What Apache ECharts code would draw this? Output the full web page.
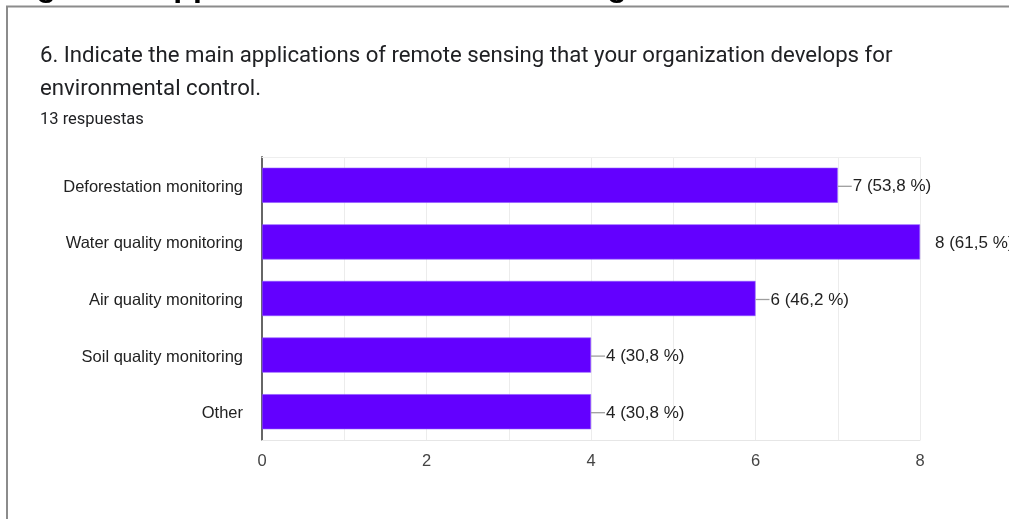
<!DOCTYPE html>
<html>
<head>
<meta charset="utf-8">
<style>
  html, body { margin: 0; padding: 0; background: #fff; }
  #chart { width: 1009px; height: 519px; }
</style>
<script src="https://cdn.jsdelivr.net/npm/echarts@6/dist/echarts.min.js"></script>
</head>
<body>
<div id="chart"></div>
<script>
// Survey answers: how many of the 13 respondents chose each application
const categories = [
  'Deforestation monitoring',
  'Water quality monitoring',
  'Air quality monitoring',
  'Soil quality monitoring',
  'Other'
];
const counts = [7, 8, 6, 4, 4];
const percents = ['53,8', '61,5', '46,2', '30,8', '30,8'];
const xTicks = [0, 2, 4, 6, 8];
const totalAnswers = 13;

const heading = 'Figure 6. Applications of remote sensing for environmental control';
const question = ['6. Indicate the main applications of remote sensing that your organization develops for',
                  'environmental control.'];
const answersLine = totalAnswers + ' respuestas';

const AXIS_MAX = 8;
const chartFont = '"Liberation Sans", Arial, sans-serif';

const chart = echarts.init(document.getElementById('chart'), null, { renderer: 'canvas' });

chart.setOption({
  animation: false,
  backgroundColor: '#ffffff',
  grid: { left: 262, right: 89, top: 157, bottom: 79, containLabel: false },
  xAxis: [{
    type: 'value',
    min: 0,
    max: AXIS_MAX,
    interval: 1,
    axisLine: { show: true, lineStyle: { color: '#e6e6e6', width: 1 } },
    axisTick: { show: false },
    splitLine: { show: true, lineStyle: { color: '#ececec', width: 1 } },
    axisLabel: {
      margin: 13,
      color: '#444',
      fontSize: 16.5,
      fontFamily: chartFont,
      formatter: v => (xTicks.indexOf(v) >= 0 ? String(v) : '')
    }
  }, {
    type: 'value',
    position: 'top',
    min: 0,
    max: AXIS_MAX,
    axisLine: { show: true, lineStyle: { color: '#eeeeee', width: 1 } },
    axisTick: { show: false },
    axisLabel: { show: false },
    splitLine: { show: false }
  }],
  yAxis: {
    type: 'category',
    data: categories,
    inverse: true,
    axisLine: { show: true, lineStyle: { color: '#666', width: 2 } },
    axisTick: { show: false },
    axisLabel: {
      margin: 19,
      formatter: v => '{c|' + v + '}',
      rich: {
        c: {
          color: '#222',
          fontSize: 16.5,
          fontFamily: chartFont,
          padding: [4, 0, 0, 0]
        }
      }
    }
  },
  series: [{
    type: 'bar',
    data: counts,
    barWidth: '62%',
    itemStyle: { color: '#6300ff', borderColor: '#8d55ff', borderWidth: 0.6 },
    label: {
      show: true,
      position: 'right',
      distance: 15,
      offset: [0, 1.5],
      color: '#222',
      fontSize: 17,
      fontFamily: chartFont,
      formatter: p => p.value + ' (' + percents[p.dataIndex] + ' %)'
    }
  }, {
    // short leader lines joining each bar end to its value label
    type: 'custom',
    silent: true,
    data: counts.map((v, i) => [v, i]),
    renderItem: (params, api) => {
      const v = api.value(0);
      if (v >= AXIS_MAX) return null;
      const p = api.coord([v, api.value(1)]);
      return {
        type: 'line',
        shape: { x1: p[0], y1: p[1] + 1, x2: p[0] + 14, y2: p[1] + 1 },
        style: { stroke: '#9e9e9e', lineWidth: 1.3 }
      };
    },
    encode: { x: 0, y: 1 },
    z: 3
  }],
  graphic: [
    // page heading, mostly cut off above the frame
    {
      type: 'text', left: 8, top: -29,
      style: { text: heading, fill: '#000', font: 'bold 32px "Liberation Sans", Arial, sans-serif' }
    },
    // frame around the form card
    {
      type: 'polyline',
      shape: { points: [[7, 519], [7, 6.5], [1009, 6.5]] },
      style: { stroke: '#8c8c8c', lineWidth: 2, fill: null }
    },
    {
      type: 'text', left: 40, top: 45,
      style: { text: question[0], fill: '#202124', font: '22.2px Roboto, "Noto Sans", sans-serif' }
    },
    {
      type: 'text', left: 40, top: 78,
      style: { text: question[1], fill: '#202124', font: '22.2px Roboto, "Noto Sans", sans-serif' }
    },
    {
      type: 'text', left: 40, top: 111,
      style: { text: answersLine, fill: '#202124', font: '16.5px Roboto, "Noto Sans", sans-serif' }
    }
  ]
});
</script>
</body>
</html>
